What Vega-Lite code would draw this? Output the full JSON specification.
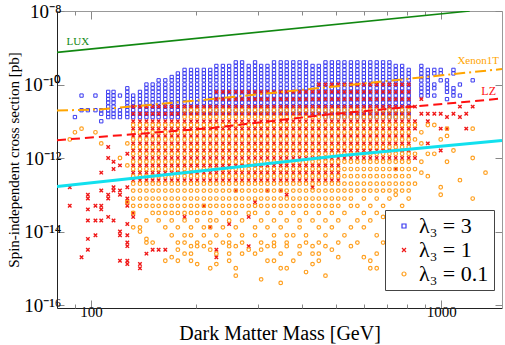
{
"$schema": "https://vega.github.io/schema/vega-lite/v6.json",
"width": 445, "height": 297,
"autosize": {"type": "none"},
"padding": {"left": 57, "top": 11, "right": 3, "bottom": 37},
"config": {"view": {"stroke": null}, "font": "Liberation Serif", "legend": {"labelFont": "Liberation Serif"}, "axis": {"grid": false, "labelFont": "Liberation Serif", "titleFont": "Liberation Serif", "titleFontWeight": "normal", "labelColor": "black", "titleColor": "black", "tickColor": "#888"}},
"datasets": {
"b": [
{"m":90,"s":1.3e-11},
{"m":94,"s":5e-11},{"m":94,"s":2e-11},
{"m":98,"s":2e-11},
{"m":103,"s":5e-11},{"m":103,"s":2e-11},
{"m":107,"s":2e-11},{"m":107,"s":1.6e-11},{"m":107,"s":1e-11},
{"m":112,"s":6.3e-11},{"m":112,"s":5e-11},{"m":112,"s":4e-11},{"m":112,"s":3.2e-11},{"m":112,"s":2.5e-11},{"m":112,"s":2e-11},{"m":112,"s":1.6e-11},{"m":112,"s":1.3e-11},
{"m":116,"s":6.3e-11},{"m":116,"s":5e-11},{"m":116,"s":4e-11},{"m":116,"s":3.2e-11},{"m":116,"s":2.5e-11},{"m":116,"s":2e-11},{"m":116,"s":1.6e-11},{"m":116,"s":1.3e-11},
{"m":121,"s":5e-11},{"m":121,"s":2e-11},{"m":121,"s":1.6e-11},{"m":121,"s":1.3e-11},
{"m":127,"s":7.9e-11},{"m":127,"s":6.3e-11},{"m":127,"s":5e-11},{"m":127,"s":4e-11},{"m":127,"s":3.2e-11},{"m":127,"s":2.5e-11},{"m":127,"s":2e-11},{"m":127,"s":1.6e-11},{"m":127,"s":1.3e-11},
{"m":132,"s":5e-11},{"m":132,"s":4e-11},{"m":132,"s":3.2e-11},{"m":132,"s":2.5e-11},{"m":132,"s":2e-11},{"m":132,"s":1.6e-11},{"m":132,"s":1.3e-11},
{"m":138,"s":6.3e-11},{"m":138,"s":5e-11},{"m":138,"s":4e-11},{"m":138,"s":3.2e-11},{"m":138,"s":2.5e-11},{"m":138,"s":2e-11},{"m":138,"s":1.6e-11},{"m":138,"s":1.3e-11},
{"m":144,"s":1e-10},{"m":144,"s":7.9e-11},{"m":144,"s":6.3e-11},{"m":144,"s":5e-11},{"m":144,"s":4e-11},{"m":144,"s":3.2e-11},{"m":144,"s":2.5e-11},{"m":144,"s":2e-11},{"m":144,"s":1.6e-11},{"m":144,"s":1.3e-11},
{"m":150,"s":1e-10},{"m":150,"s":7.9e-11},{"m":150,"s":6.3e-11},{"m":150,"s":5e-11},{"m":150,"s":4e-11},{"m":150,"s":3.2e-11},{"m":150,"s":2.5e-11},{"m":150,"s":2e-11},{"m":150,"s":1.6e-11},{"m":150,"s":1.3e-11},
{"m":156,"s":1.3e-10},{"m":156,"s":1e-10},{"m":156,"s":7.9e-11},{"m":156,"s":6.3e-11},{"m":156,"s":5e-11},{"m":156,"s":4e-11},{"m":156,"s":3.2e-11},{"m":156,"s":2.5e-11},{"m":156,"s":2e-11},{"m":156,"s":1.6e-11},{"m":156,"s":1.3e-11},
{"m":163,"s":1.3e-10},{"m":163,"s":1e-10},{"m":163,"s":7.9e-11},{"m":163,"s":6.3e-11},{"m":163,"s":5e-11},{"m":163,"s":4e-11},{"m":163,"s":3.2e-11},{"m":163,"s":2.5e-11},{"m":163,"s":2e-11},{"m":163,"s":1.6e-11},{"m":163,"s":1.3e-11},
{"m":170,"s":1.6e-10},{"m":170,"s":1.3e-10},{"m":170,"s":1e-10},{"m":170,"s":7.9e-11},{"m":170,"s":6.3e-11},{"m":170,"s":5e-11},{"m":170,"s":4e-11},{"m":170,"s":3.2e-11},{"m":170,"s":2.5e-11},{"m":170,"s":2e-11},{"m":170,"s":1.6e-11},{"m":170,"s":1.3e-11},
{"m":177,"s":2e-10},{"m":177,"s":1.6e-10},{"m":177,"s":1.3e-10},{"m":177,"s":1e-10},{"m":177,"s":7.9e-11},{"m":177,"s":6.3e-11},{"m":177,"s":5e-11},{"m":177,"s":4e-11},{"m":177,"s":3.2e-11},{"m":177,"s":2.5e-11},{"m":177,"s":2e-11},{"m":177,"s":1.6e-11},{"m":177,"s":1.3e-11},
{"m":185,"s":2.5e-10},{"m":185,"s":2e-10},{"m":185,"s":1.6e-10},{"m":185,"s":1.3e-10},{"m":185,"s":1e-10},{"m":185,"s":7.9e-11},{"m":185,"s":6.3e-11},{"m":185,"s":5e-11},{"m":185,"s":4e-11},{"m":185,"s":3.2e-11},{"m":185,"s":2.5e-11},{"m":185,"s":2e-11},{"m":185,"s":1.6e-11},
{"m":193,"s":2.5e-10},{"m":193,"s":2e-10},{"m":193,"s":1.6e-10},{"m":193,"s":1.3e-10},{"m":193,"s":1e-10},{"m":193,"s":7.9e-11},{"m":193,"s":6.3e-11},{"m":193,"s":5e-11},{"m":193,"s":4e-11},{"m":193,"s":3.2e-11},{"m":193,"s":2.5e-11},{"m":193,"s":2e-11},{"m":193,"s":1.6e-11},
{"m":201,"s":2.5e-10},{"m":201,"s":2e-10},{"m":201,"s":1.6e-10},{"m":201,"s":1.3e-10},{"m":201,"s":1e-10},{"m":201,"s":7.9e-11},{"m":201,"s":6.3e-11},{"m":201,"s":5e-11},{"m":201,"s":4e-11},{"m":201,"s":3.2e-11},{"m":201,"s":2.5e-11},{"m":201,"s":2e-11},{"m":201,"s":1.6e-11},
{"m":210,"s":2.5e-10},{"m":210,"s":2e-10},{"m":210,"s":1.6e-10},{"m":210,"s":1.3e-10},{"m":210,"s":1e-10},{"m":210,"s":7.9e-11},{"m":210,"s":6.3e-11},{"m":210,"s":5e-11},{"m":210,"s":4e-11},{"m":210,"s":3.2e-11},{"m":210,"s":2.5e-11},{"m":210,"s":2e-11},{"m":210,"s":1.6e-11},
{"m":219,"s":2.5e-10},{"m":219,"s":2e-10},{"m":219,"s":1.6e-10},{"m":219,"s":1.3e-10},{"m":219,"s":1e-10},{"m":219,"s":7.9e-11},{"m":219,"s":6.3e-11},{"m":219,"s":5e-11},{"m":219,"s":4e-11},{"m":219,"s":3.2e-11},{"m":219,"s":2.5e-11},{"m":219,"s":2e-11},{"m":219,"s":1.6e-11},
{"m":228,"s":3.2e-10},{"m":228,"s":2.5e-10},{"m":228,"s":2e-10},{"m":228,"s":1.6e-10},{"m":228,"s":1.3e-10},{"m":228,"s":1e-10},{"m":228,"s":7.9e-11},{"m":228,"s":6.3e-11},{"m":228,"s":5e-11},{"m":228,"s":4e-11},{"m":228,"s":3.2e-11},{"m":228,"s":2.5e-11},{"m":228,"s":2e-11},{"m":228,"s":1.6e-11},
{"m":238,"s":3.2e-10},{"m":238,"s":2.5e-10},{"m":238,"s":2e-10},{"m":238,"s":1.6e-10},{"m":238,"s":1.3e-10},{"m":238,"s":1e-10},{"m":238,"s":7.9e-11},{"m":238,"s":6.3e-11},{"m":238,"s":5e-11},{"m":238,"s":4e-11},{"m":238,"s":3.2e-11},{"m":238,"s":2.5e-11},{"m":238,"s":2e-11},{"m":238,"s":1.6e-11},
{"m":248,"s":3.2e-10},{"m":248,"s":2.5e-10},{"m":248,"s":2e-10},{"m":248,"s":1.6e-10},{"m":248,"s":1.3e-10},{"m":248,"s":1e-10},{"m":248,"s":7.9e-11},{"m":248,"s":6.3e-11},{"m":248,"s":5e-11},{"m":248,"s":4e-11},{"m":248,"s":3.2e-11},{"m":248,"s":2.5e-11},{"m":248,"s":2e-11},{"m":248,"s":1.6e-11},
{"m":259,"s":4e-10},{"m":259,"s":3.2e-10},{"m":259,"s":2.5e-10},{"m":259,"s":2e-10},{"m":259,"s":1.6e-10},{"m":259,"s":1.3e-10},{"m":259,"s":1e-10},{"m":259,"s":7.9e-11},{"m":259,"s":6.3e-11},{"m":259,"s":5e-11},{"m":259,"s":4e-11},{"m":259,"s":3.2e-11},{"m":259,"s":2.5e-11},{"m":259,"s":2e-11},{"m":259,"s":1.6e-11},
{"m":270,"s":4e-10},{"m":270,"s":3.2e-10},{"m":270,"s":2.5e-10},{"m":270,"s":2e-10},{"m":270,"s":1.6e-10},{"m":270,"s":1.3e-10},{"m":270,"s":1e-10},{"m":270,"s":7.9e-11},{"m":270,"s":6.3e-11},{"m":270,"s":5e-11},{"m":270,"s":4e-11},{"m":270,"s":3.2e-11},{"m":270,"s":2.5e-11},{"m":270,"s":2e-11},{"m":270,"s":1.6e-11},
{"m":282,"s":3.2e-10},{"m":282,"s":2.5e-10},{"m":282,"s":2e-10},{"m":282,"s":1.6e-10},{"m":282,"s":1.3e-10},{"m":282,"s":1e-10},{"m":282,"s":7.9e-11},{"m":282,"s":6.3e-11},{"m":282,"s":5e-11},{"m":282,"s":4e-11},{"m":282,"s":3.2e-11},{"m":282,"s":2.5e-11},{"m":282,"s":2e-11},{"m":282,"s":1.6e-11},
{"m":294,"s":4e-10},{"m":294,"s":3.2e-10},{"m":294,"s":2.5e-10},{"m":294,"s":2e-10},{"m":294,"s":1.6e-10},{"m":294,"s":1.3e-10},{"m":294,"s":1e-10},{"m":294,"s":7.9e-11},{"m":294,"s":6.3e-11},{"m":294,"s":5e-11},{"m":294,"s":4e-11},{"m":294,"s":3.2e-11},{"m":294,"s":2.5e-11},{"m":294,"s":2e-11},{"m":294,"s":1.6e-11},
{"m":306,"s":3.2e-10},{"m":306,"s":2.5e-10},{"m":306,"s":2e-10},{"m":306,"s":1.6e-10},{"m":306,"s":1.3e-10},{"m":306,"s":1e-10},{"m":306,"s":7.9e-11},{"m":306,"s":6.3e-11},{"m":306,"s":5e-11},{"m":306,"s":4e-11},{"m":306,"s":3.2e-11},{"m":306,"s":2.5e-11},{"m":306,"s":2e-11},{"m":306,"s":1.6e-11},
{"m":319,"s":3.2e-10},{"m":319,"s":2.5e-10},{"m":319,"s":2e-10},{"m":319,"s":1.6e-10},{"m":319,"s":1.3e-10},{"m":319,"s":1e-10},{"m":319,"s":7.9e-11},{"m":319,"s":6.3e-11},{"m":319,"s":5e-11},{"m":319,"s":4e-11},{"m":319,"s":3.2e-11},{"m":319,"s":2.5e-11},{"m":319,"s":2e-11},{"m":319,"s":1.6e-11},
{"m":333,"s":4e-10},{"m":333,"s":3.2e-10},{"m":333,"s":2.5e-10},{"m":333,"s":2e-10},{"m":333,"s":1.6e-10},{"m":333,"s":1.3e-10},{"m":333,"s":1e-10},{"m":333,"s":7.9e-11},{"m":333,"s":6.3e-11},{"m":333,"s":5e-11},{"m":333,"s":4e-11},{"m":333,"s":3.2e-11},{"m":333,"s":2.5e-11},{"m":333,"s":2e-11},{"m":333,"s":1.6e-11},
{"m":348,"s":4e-10},{"m":348,"s":3.2e-10},{"m":348,"s":2.5e-10},{"m":348,"s":2e-10},{"m":348,"s":1.6e-10},{"m":348,"s":1.3e-10},{"m":348,"s":1e-10},{"m":348,"s":7.9e-11},{"m":348,"s":6.3e-11},{"m":348,"s":5e-11},{"m":348,"s":4e-11},{"m":348,"s":3.2e-11},{"m":348,"s":2.5e-11},{"m":348,"s":2e-11},{"m":348,"s":1.6e-11},
{"m":362,"s":4e-10},{"m":362,"s":3.2e-10},{"m":362,"s":2.5e-10},{"m":362,"s":2e-10},{"m":362,"s":1.6e-10},{"m":362,"s":1.3e-10},{"m":362,"s":1e-10},{"m":362,"s":7.9e-11},{"m":362,"s":6.3e-11},{"m":362,"s":5e-11},{"m":362,"s":4e-11},{"m":362,"s":3.2e-11},{"m":362,"s":2.5e-11},{"m":362,"s":2e-11},{"m":362,"s":1.6e-11},
{"m":378,"s":4e-10},{"m":378,"s":3.2e-10},{"m":378,"s":2.5e-10},{"m":378,"s":2e-10},{"m":378,"s":1.6e-10},{"m":378,"s":1.3e-10},{"m":378,"s":1e-10},{"m":378,"s":7.9e-11},{"m":378,"s":6.3e-11},{"m":378,"s":5e-11},{"m":378,"s":4e-11},{"m":378,"s":3.2e-11},{"m":378,"s":2.5e-11},{"m":378,"s":2e-11},{"m":378,"s":1.6e-11},
{"m":394,"s":4e-10},{"m":394,"s":3.2e-10},{"m":394,"s":2.5e-10},{"m":394,"s":2e-10},{"m":394,"s":1.6e-10},{"m":394,"s":1.3e-10},{"m":394,"s":1e-10},{"m":394,"s":7.9e-11},{"m":394,"s":6.3e-11},{"m":394,"s":5e-11},{"m":394,"s":4e-11},{"m":394,"s":3.2e-11},{"m":394,"s":2.5e-11},{"m":394,"s":2e-11},{"m":394,"s":1.6e-11},
{"m":411,"s":4e-10},{"m":411,"s":3.2e-10},{"m":411,"s":2.5e-10},{"m":411,"s":2e-10},{"m":411,"s":1.6e-10},{"m":411,"s":1.3e-10},{"m":411,"s":1e-10},{"m":411,"s":7.9e-11},{"m":411,"s":6.3e-11},{"m":411,"s":5e-11},{"m":411,"s":4e-11},{"m":411,"s":3.2e-11},{"m":411,"s":2.5e-11},{"m":411,"s":2e-11},{"m":411,"s":1.6e-11},
{"m":429,"s":3.2e-10},{"m":429,"s":2.5e-10},{"m":429,"s":2e-10},{"m":429,"s":1.6e-10},{"m":429,"s":1.3e-10},{"m":429,"s":1e-10},{"m":429,"s":7.9e-11},{"m":429,"s":6.3e-11},{"m":429,"s":5e-11},{"m":429,"s":4e-11},{"m":429,"s":3.2e-11},{"m":429,"s":2.5e-11},{"m":429,"s":2e-11},{"m":429,"s":1.6e-11},
{"m":447,"s":3.2e-10},{"m":447,"s":2.5e-10},{"m":447,"s":2e-10},{"m":447,"s":1.6e-10},{"m":447,"s":1.3e-10},{"m":447,"s":1e-10},{"m":447,"s":7.9e-11},{"m":447,"s":6.3e-11},{"m":447,"s":5e-11},{"m":447,"s":4e-11},{"m":447,"s":3.2e-11},{"m":447,"s":2.5e-11},{"m":447,"s":2e-11},{"m":447,"s":1.6e-11},
{"m":467,"s":4e-10},{"m":467,"s":3.2e-10},{"m":467,"s":2.5e-10},{"m":467,"s":2e-10},{"m":467,"s":1.6e-10},{"m":467,"s":1.3e-10},{"m":467,"s":1e-10},{"m":467,"s":7.9e-11},{"m":467,"s":6.3e-11},{"m":467,"s":5e-11},{"m":467,"s":4e-11},{"m":467,"s":3.2e-11},{"m":467,"s":2.5e-11},{"m":467,"s":2e-11},{"m":467,"s":1.6e-11},{"m":467,"s":1.3e-11},
{"m":487,"s":4e-10},{"m":487,"s":3.2e-10},{"m":487,"s":2.5e-10},{"m":487,"s":2e-10},{"m":487,"s":1.6e-10},{"m":487,"s":1.3e-10},{"m":487,"s":1e-10},{"m":487,"s":7.9e-11},{"m":487,"s":6.3e-11},{"m":487,"s":5e-11},{"m":487,"s":4e-11},{"m":487,"s":3.2e-11},{"m":487,"s":2.5e-11},{"m":487,"s":2e-11},{"m":487,"s":1.6e-11},{"m":487,"s":1.3e-11},
{"m":508,"s":4e-10},{"m":508,"s":3.2e-10},{"m":508,"s":2.5e-10},{"m":508,"s":2e-10},{"m":508,"s":1.6e-10},{"m":508,"s":1.3e-10},{"m":508,"s":1e-10},{"m":508,"s":7.9e-11},{"m":508,"s":6.3e-11},{"m":508,"s":5e-11},{"m":508,"s":4e-11},{"m":508,"s":3.2e-11},{"m":508,"s":2.5e-11},{"m":508,"s":2e-11},{"m":508,"s":1.6e-11},{"m":508,"s":1.3e-11},
{"m":529,"s":4e-10},{"m":529,"s":3.2e-10},{"m":529,"s":2.5e-10},{"m":529,"s":2e-10},{"m":529,"s":1.6e-10},{"m":529,"s":1.3e-10},{"m":529,"s":1e-10},{"m":529,"s":7.9e-11},{"m":529,"s":6.3e-11},{"m":529,"s":5e-11},{"m":529,"s":4e-11},{"m":529,"s":3.2e-11},{"m":529,"s":2.5e-11},{"m":529,"s":2e-11},{"m":529,"s":1.6e-11},{"m":529,"s":1.3e-11},
{"m":552,"s":4e-10},{"m":552,"s":3.2e-10},{"m":552,"s":2.5e-10},{"m":552,"s":2e-10},{"m":552,"s":1.6e-10},{"m":552,"s":1.3e-10},{"m":552,"s":1e-10},{"m":552,"s":7.9e-11},{"m":552,"s":6.3e-11},{"m":552,"s":5e-11},{"m":552,"s":4e-11},{"m":552,"s":3.2e-11},{"m":552,"s":2.5e-11},{"m":552,"s":2e-11},{"m":552,"s":1.6e-11},{"m":552,"s":1.3e-11},
{"m":576,"s":4e-10},{"m":576,"s":3.2e-10},{"m":576,"s":2.5e-10},{"m":576,"s":2e-10},{"m":576,"s":1.6e-10},{"m":576,"s":1.3e-10},{"m":576,"s":1e-10},{"m":576,"s":7.9e-11},{"m":576,"s":6.3e-11},{"m":576,"s":5e-11},{"m":576,"s":4e-11},{"m":576,"s":3.2e-11},{"m":576,"s":2.5e-11},{"m":576,"s":2e-11},{"m":576,"s":1.6e-11},{"m":576,"s":1.3e-11},
{"m":601,"s":4e-10},{"m":601,"s":3.2e-10},{"m":601,"s":2.5e-10},{"m":601,"s":2e-10},{"m":601,"s":1.6e-10},{"m":601,"s":1.3e-10},{"m":601,"s":1e-10},{"m":601,"s":7.9e-11},{"m":601,"s":6.3e-11},{"m":601,"s":5e-11},{"m":601,"s":4e-11},{"m":601,"s":3.2e-11},{"m":601,"s":2.5e-11},{"m":601,"s":2e-11},{"m":601,"s":1.6e-11},{"m":601,"s":1.3e-11},
{"m":627,"s":4e-10},{"m":627,"s":3.2e-10},{"m":627,"s":2.5e-10},{"m":627,"s":2e-10},{"m":627,"s":1.6e-10},{"m":627,"s":1.3e-10},{"m":627,"s":1e-10},{"m":627,"s":7.9e-11},{"m":627,"s":6.3e-11},{"m":627,"s":5e-11},{"m":627,"s":4e-11},{"m":627,"s":3.2e-11},{"m":627,"s":2.5e-11},{"m":627,"s":2e-11},{"m":627,"s":1.6e-11},{"m":627,"s":1.3e-11},
{"m":654,"s":4e-10},{"m":654,"s":3.2e-10},{"m":654,"s":2.5e-10},{"m":654,"s":2e-10},{"m":654,"s":1.6e-10},{"m":654,"s":1.3e-10},{"m":654,"s":1e-10},{"m":654,"s":7.9e-11},{"m":654,"s":6.3e-11},{"m":654,"s":5e-11},{"m":654,"s":4e-11},{"m":654,"s":3.2e-11},{"m":654,"s":2.5e-11},{"m":654,"s":2e-11},{"m":654,"s":1.6e-11},{"m":654,"s":1.3e-11},
{"m":682,"s":4e-10},{"m":682,"s":3.2e-10},{"m":682,"s":2.5e-10},{"m":682,"s":2e-10},{"m":682,"s":1.6e-10},{"m":682,"s":1.3e-10},{"m":682,"s":1e-10},{"m":682,"s":7.9e-11},{"m":682,"s":6.3e-11},{"m":682,"s":5e-11},{"m":682,"s":4e-11},{"m":682,"s":3.2e-11},{"m":682,"s":2.5e-11},{"m":682,"s":2e-11},{"m":682,"s":1.6e-11},{"m":682,"s":1.3e-11},
{"m":711,"s":4e-10},{"m":711,"s":3.2e-10},{"m":711,"s":2.5e-10},{"m":711,"s":2e-10},{"m":711,"s":1.6e-10},{"m":711,"s":1.3e-10},{"m":711,"s":1e-10},{"m":711,"s":7.9e-11},{"m":711,"s":6.3e-11},{"m":711,"s":5e-11},{"m":711,"s":4e-11},{"m":711,"s":3.2e-11},{"m":711,"s":2.5e-11},{"m":711,"s":2e-11},{"m":711,"s":1.6e-11},{"m":711,"s":1.3e-11},
{"m":741,"s":3.2e-10},{"m":741,"s":2.5e-10},{"m":741,"s":2e-10},{"m":741,"s":1.6e-10},{"m":741,"s":1.3e-10},{"m":741,"s":1e-10},{"m":741,"s":7.9e-11},{"m":741,"s":6.3e-11},{"m":741,"s":5e-11},{"m":741,"s":4e-11},{"m":741,"s":3.2e-11},{"m":741,"s":2.5e-11},{"m":741,"s":2e-11},{"m":741,"s":1.6e-11},{"m":741,"s":1.3e-11},
{"m":773,"s":3.2e-10},{"m":773,"s":2.5e-10},{"m":773,"s":2e-10},{"m":773,"s":1.6e-10},{"m":773,"s":1.3e-10},{"m":773,"s":1e-10},{"m":773,"s":7.9e-11},{"m":773,"s":6.3e-11},{"m":773,"s":5e-11},{"m":773,"s":4e-11},{"m":773,"s":3.2e-11},{"m":773,"s":2.5e-11},{"m":773,"s":2e-11},{"m":773,"s":1.6e-11},{"m":773,"s":1.3e-11},
{"m":807,"s":2.5e-10},{"m":807,"s":2e-10},{"m":807,"s":1.6e-10},{"m":807,"s":1.3e-10},{"m":807,"s":1e-10},{"m":807,"s":7.9e-11},{"m":807,"s":6.3e-11},{"m":807,"s":5e-11},{"m":807,"s":4e-11},{"m":807,"s":3.2e-11},{"m":807,"s":2.5e-11},{"m":807,"s":2e-11},{"m":807,"s":1.6e-11},{"m":807,"s":1.3e-11},
{"m":877,"s":3.2e-10},{"m":877,"s":2.5e-10},{"m":877,"s":2e-10},{"m":877,"s":1.6e-10},{"m":877,"s":1.3e-10},{"m":877,"s":1e-10},{"m":877,"s":7.9e-11},{"m":877,"s":6.3e-11},{"m":877,"s":5e-11},
{"m":915,"s":2.5e-10},{"m":915,"s":2e-10},{"m":915,"s":1.6e-10},{"m":915,"s":1.3e-10},{"m":915,"s":1e-10},{"m":915,"s":7.9e-11},{"m":915,"s":6.3e-11},{"m":915,"s":5e-11},
{"m":955,"s":2.5e-10},{"m":955,"s":2e-10},{"m":955,"s":1e-10},{"m":955,"s":7.9e-11},{"m":955,"s":5e-11},
{"m":996,"s":2.5e-10},{"m":996,"s":2e-10},{"m":996,"s":1.3e-10},
{"m":1038,"s":1.3e-10},{"m":1038,"s":1e-10},{"m":1038,"s":7.9e-11},{"m":1038,"s":6.3e-11},{"m":1038,"s":4e-11},
{"m":1083,"s":2.5e-10},{"m":1083,"s":2e-10},{"m":1083,"s":7.9e-11},{"m":1083,"s":6.3e-11},{"m":1083,"s":5e-11},
{"m":1130,"s":1e-10},{"m":1130,"s":5e-11},
{"m":1229,"s":1.3e-10}
],
"r": [
{"m":132,"s":2.5e-11},{"m":132,"s":1.6e-11},{"m":132,"s":1e-11},{"m":132,"s":6.3e-12},{"m":132,"s":4e-12},{"m":132,"s":2.5e-12},{"m":132,"s":1.6e-12},{"m":132,"s":1e-12},{"m":132,"s":6.3e-13},{"m":132,"s":4e-13},{"m":132,"s":2.5e-13},
{"m":138,"s":2.5e-11},{"m":138,"s":1.6e-11},{"m":138,"s":1e-11},{"m":138,"s":6.3e-12},{"m":138,"s":4e-12},{"m":138,"s":2.5e-12},{"m":138,"s":1.6e-12},{"m":138,"s":1e-12},{"m":138,"s":6.3e-13},{"m":138,"s":4e-13},{"m":138,"s":2.5e-13},
{"m":144,"s":2.5e-11},{"m":144,"s":1.6e-11},{"m":144,"s":1e-11},{"m":144,"s":6.3e-12},{"m":144,"s":4e-12},{"m":144,"s":2.5e-12},{"m":144,"s":1.6e-12},{"m":144,"s":1e-12},{"m":144,"s":6.3e-13},{"m":144,"s":4e-13},{"m":144,"s":2.5e-13},
{"m":150,"s":2.5e-11},{"m":150,"s":1.6e-11},{"m":150,"s":1e-11},{"m":150,"s":6.3e-12},{"m":150,"s":4e-12},{"m":150,"s":2.5e-12},{"m":150,"s":1.6e-12},{"m":150,"s":1e-12},{"m":150,"s":6.3e-13},{"m":150,"s":4e-13},{"m":150,"s":2.5e-13},
{"m":156,"s":2.5e-11},{"m":156,"s":1.6e-11},{"m":156,"s":1e-11},{"m":156,"s":6.3e-12},{"m":156,"s":4e-12},{"m":156,"s":2.5e-12},{"m":156,"s":1.6e-12},{"m":156,"s":1e-12},{"m":156,"s":6.3e-13},{"m":156,"s":4e-13},{"m":156,"s":2.5e-13},
{"m":163,"s":2.5e-11},{"m":163,"s":1.6e-11},{"m":163,"s":1e-11},{"m":163,"s":6.3e-12},{"m":163,"s":4e-12},{"m":163,"s":2.5e-12},{"m":163,"s":1.6e-12},{"m":163,"s":1e-12},{"m":163,"s":6.3e-13},{"m":163,"s":4e-13},{"m":163,"s":2.5e-13},
{"m":170,"s":2.5e-11},{"m":170,"s":1.6e-11},{"m":170,"s":1e-11},{"m":170,"s":6.3e-12},{"m":170,"s":4e-12},{"m":170,"s":2.5e-12},{"m":170,"s":1.6e-12},{"m":170,"s":1e-12},{"m":170,"s":6.3e-13},{"m":170,"s":4e-13},{"m":170,"s":2.5e-13},
{"m":177,"s":2.5e-11},{"m":177,"s":1.6e-11},{"m":177,"s":1e-11},{"m":177,"s":6.3e-12},{"m":177,"s":4e-12},{"m":177,"s":2.5e-12},{"m":177,"s":1.6e-12},{"m":177,"s":1e-12},{"m":177,"s":6.3e-13},{"m":177,"s":4e-13},{"m":177,"s":2.5e-13},
{"m":185,"s":2.5e-11},{"m":185,"s":1.6e-11},{"m":185,"s":1e-11},{"m":185,"s":6.3e-12},{"m":185,"s":4e-12},{"m":185,"s":2.5e-12},{"m":185,"s":1.6e-12},{"m":185,"s":1e-12},{"m":185,"s":6.3e-13},{"m":185,"s":4e-13},{"m":185,"s":2.5e-13},
{"m":193,"s":2.5e-11},{"m":193,"s":1.6e-11},{"m":193,"s":1e-11},{"m":193,"s":6.3e-12},{"m":193,"s":4e-12},{"m":193,"s":2.5e-12},{"m":193,"s":1.6e-12},{"m":193,"s":1e-12},{"m":193,"s":6.3e-13},{"m":193,"s":4e-13},{"m":193,"s":2.5e-13},
{"m":201,"s":2.5e-11},{"m":201,"s":1.6e-11},{"m":201,"s":1e-11},{"m":201,"s":6.3e-12},{"m":201,"s":4e-12},{"m":201,"s":2.5e-12},{"m":201,"s":1.6e-12},{"m":201,"s":1e-12},{"m":201,"s":6.3e-13},{"m":201,"s":4e-13},{"m":201,"s":2.5e-13},
{"m":210,"s":2.5e-11},{"m":210,"s":1.6e-11},{"m":210,"s":1e-11},{"m":210,"s":6.3e-12},{"m":210,"s":4e-12},{"m":210,"s":2.5e-12},{"m":210,"s":1.6e-12},{"m":210,"s":1e-12},{"m":210,"s":6.3e-13},{"m":210,"s":4e-13},{"m":210,"s":2.5e-13},
{"m":219,"s":2.5e-11},{"m":219,"s":1.6e-11},{"m":219,"s":1e-11},{"m":219,"s":6.3e-12},{"m":219,"s":4e-12},{"m":219,"s":2.5e-12},{"m":219,"s":1.6e-12},{"m":219,"s":1e-12},{"m":219,"s":6.3e-13},{"m":219,"s":4e-13},{"m":219,"s":2.5e-13},
{"m":228,"s":6.3e-11},{"m":228,"s":4e-11},{"m":228,"s":2.5e-11},{"m":228,"s":1.6e-11},{"m":228,"s":1e-11},{"m":228,"s":6.3e-12},{"m":228,"s":4e-12},{"m":228,"s":2.5e-12},{"m":228,"s":1.6e-12},{"m":228,"s":1e-12},{"m":228,"s":6.3e-13},{"m":228,"s":4e-13},{"m":228,"s":2.5e-13},
{"m":238,"s":6.3e-11},{"m":238,"s":4e-11},{"m":238,"s":2.5e-11},{"m":238,"s":1.6e-11},{"m":238,"s":1e-11},{"m":238,"s":6.3e-12},{"m":238,"s":4e-12},{"m":238,"s":2.5e-12},{"m":238,"s":1.6e-12},{"m":238,"s":1e-12},{"m":238,"s":6.3e-13},{"m":238,"s":4e-13},{"m":238,"s":2.5e-13},
{"m":248,"s":6.3e-11},{"m":248,"s":4e-11},{"m":248,"s":2.5e-11},{"m":248,"s":1.6e-11},{"m":248,"s":1e-11},{"m":248,"s":6.3e-12},{"m":248,"s":4e-12},{"m":248,"s":2.5e-12},{"m":248,"s":1.6e-12},{"m":248,"s":1e-12},{"m":248,"s":6.3e-13},{"m":248,"s":4e-13},{"m":248,"s":2.5e-13},
{"m":259,"s":6.3e-11},{"m":259,"s":4e-11},{"m":259,"s":2.5e-11},{"m":259,"s":1.6e-11},{"m":259,"s":1e-11},{"m":259,"s":6.3e-12},{"m":259,"s":4e-12},{"m":259,"s":2.5e-12},{"m":259,"s":1.6e-12},{"m":259,"s":1e-12},{"m":259,"s":6.3e-13},{"m":259,"s":4e-13},{"m":259,"s":2.5e-13},
{"m":270,"s":6.3e-11},{"m":270,"s":4e-11},{"m":270,"s":2.5e-11},{"m":270,"s":1.6e-11},{"m":270,"s":1e-11},{"m":270,"s":6.3e-12},{"m":270,"s":4e-12},{"m":270,"s":2.5e-12},{"m":270,"s":1.6e-12},{"m":270,"s":1e-12},{"m":270,"s":6.3e-13},{"m":270,"s":4e-13},{"m":270,"s":2.5e-13},
{"m":282,"s":6.3e-11},{"m":282,"s":4e-11},{"m":282,"s":2.5e-11},{"m":282,"s":1.6e-11},{"m":282,"s":1e-11},{"m":282,"s":6.3e-12},{"m":282,"s":4e-12},{"m":282,"s":2.5e-12},{"m":282,"s":1.6e-12},{"m":282,"s":1e-12},{"m":282,"s":6.3e-13},{"m":282,"s":4e-13},{"m":282,"s":2.5e-13},
{"m":294,"s":6.3e-11},{"m":294,"s":4e-11},{"m":294,"s":2.5e-11},{"m":294,"s":1.6e-11},{"m":294,"s":1e-11},{"m":294,"s":6.3e-12},{"m":294,"s":4e-12},{"m":294,"s":2.5e-12},{"m":294,"s":1.6e-12},{"m":294,"s":1e-12},{"m":294,"s":6.3e-13},{"m":294,"s":4e-13},{"m":294,"s":2.5e-13},
{"m":306,"s":6.3e-11},{"m":306,"s":4e-11},{"m":306,"s":2.5e-11},{"m":306,"s":1.6e-11},{"m":306,"s":1e-11},{"m":306,"s":6.3e-12},{"m":306,"s":4e-12},{"m":306,"s":2.5e-12},{"m":306,"s":1.6e-12},{"m":306,"s":1e-12},{"m":306,"s":6.3e-13},{"m":306,"s":4e-13},{"m":306,"s":2.5e-13},
{"m":319,"s":6.3e-11},{"m":319,"s":4e-11},{"m":319,"s":2.5e-11},{"m":319,"s":1.6e-11},{"m":319,"s":1e-11},{"m":319,"s":6.3e-12},{"m":319,"s":4e-12},{"m":319,"s":2.5e-12},{"m":319,"s":1.6e-12},{"m":319,"s":1e-12},{"m":319,"s":6.3e-13},{"m":319,"s":4e-13},{"m":319,"s":2.5e-13},
{"m":333,"s":6.3e-11},{"m":333,"s":4e-11},{"m":333,"s":2.5e-11},{"m":333,"s":1.6e-11},{"m":333,"s":1e-11},{"m":333,"s":6.3e-12},{"m":333,"s":4e-12},{"m":333,"s":2.5e-12},{"m":333,"s":1.6e-12},{"m":333,"s":1e-12},{"m":333,"s":6.3e-13},{"m":333,"s":4e-13},{"m":333,"s":2.5e-13},
{"m":348,"s":6.3e-11},{"m":348,"s":4e-11},{"m":348,"s":2.5e-11},{"m":348,"s":1.6e-11},{"m":348,"s":1e-11},{"m":348,"s":6.3e-12},{"m":348,"s":4e-12},{"m":348,"s":2.5e-12},{"m":348,"s":1.6e-12},{"m":348,"s":1e-12},{"m":348,"s":6.3e-13},{"m":348,"s":4e-13},{"m":348,"s":2.5e-13},
{"m":362,"s":6.3e-11},{"m":362,"s":4e-11},{"m":362,"s":2.5e-11},{"m":362,"s":1.6e-11},{"m":362,"s":1e-11},{"m":362,"s":6.3e-12},{"m":362,"s":4e-12},{"m":362,"s":2.5e-12},{"m":362,"s":1.6e-12},{"m":362,"s":1e-12},{"m":362,"s":6.3e-13},{"m":362,"s":4e-13},{"m":362,"s":2.5e-13},
{"m":378,"s":6.3e-11},{"m":378,"s":4e-11},{"m":378,"s":2.5e-11},{"m":378,"s":1.6e-11},{"m":378,"s":1e-11},{"m":378,"s":6.3e-12},{"m":378,"s":4e-12},{"m":378,"s":2.5e-12},{"m":378,"s":1.6e-12},{"m":378,"s":1e-12},{"m":378,"s":6.3e-13},{"m":378,"s":4e-13},{"m":378,"s":2.5e-13},
{"m":394,"s":6.3e-11},{"m":394,"s":4e-11},{"m":394,"s":2.5e-11},{"m":394,"s":1.6e-11},{"m":394,"s":1e-11},{"m":394,"s":6.3e-12},{"m":394,"s":4e-12},{"m":394,"s":2.5e-12},{"m":394,"s":1.6e-12},{"m":394,"s":1e-12},{"m":394,"s":6.3e-13},{"m":394,"s":4e-13},{"m":394,"s":2.5e-13},
{"m":411,"s":6.3e-11},{"m":411,"s":4e-11},{"m":411,"s":2.5e-11},{"m":411,"s":1.6e-11},{"m":411,"s":1e-11},{"m":411,"s":6.3e-12},{"m":411,"s":4e-12},{"m":411,"s":2.5e-12},{"m":411,"s":1.6e-12},{"m":411,"s":1e-12},{"m":411,"s":6.3e-13},{"m":411,"s":4e-13},{"m":411,"s":2.5e-13},
{"m":429,"s":6.3e-11},{"m":429,"s":4e-11},{"m":429,"s":2.5e-11},{"m":429,"s":1.6e-11},{"m":429,"s":1e-11},{"m":429,"s":6.3e-12},{"m":429,"s":4e-12},{"m":429,"s":2.5e-12},{"m":429,"s":1.6e-12},{"m":429,"s":1e-12},{"m":429,"s":6.3e-13},{"m":429,"s":4e-13},{"m":429,"s":2.5e-13},
{"m":447,"s":1e-10},{"m":447,"s":6.3e-11},{"m":447,"s":4e-11},{"m":447,"s":2.5e-11},{"m":447,"s":1.6e-11},{"m":447,"s":1e-11},{"m":447,"s":6.3e-12},{"m":447,"s":4e-12},{"m":447,"s":2.5e-12},{"m":447,"s":1.6e-12},{"m":447,"s":1e-12},{"m":447,"s":6.3e-13},{"m":447,"s":4e-13},{"m":447,"s":2.5e-13},
{"m":467,"s":1e-10},{"m":467,"s":6.3e-11},{"m":467,"s":4e-11},{"m":467,"s":2.5e-11},{"m":467,"s":1.6e-11},{"m":467,"s":1e-11},{"m":467,"s":6.3e-12},{"m":467,"s":4e-12},{"m":467,"s":2.5e-12},{"m":467,"s":1.6e-12},{"m":467,"s":1e-12},{"m":467,"s":6.3e-13},{"m":467,"s":4e-13},{"m":467,"s":2.5e-13},
{"m":487,"s":1e-10},{"m":487,"s":6.3e-11},{"m":487,"s":4e-11},{"m":487,"s":2.5e-11},{"m":487,"s":1.6e-11},{"m":487,"s":1e-11},{"m":487,"s":6.3e-12},{"m":487,"s":4e-12},{"m":487,"s":2.5e-12},{"m":487,"s":1.6e-12},{"m":487,"s":1e-12},{"m":487,"s":6.3e-13},{"m":487,"s":4e-13},{"m":487,"s":2.5e-13},
{"m":508,"s":1e-10},{"m":508,"s":6.3e-11},{"m":508,"s":4e-11},{"m":508,"s":2.5e-11},{"m":508,"s":1.6e-11},{"m":508,"s":1e-11},{"m":508,"s":6.3e-12},{"m":508,"s":4e-12},{"m":508,"s":2.5e-12},{"m":508,"s":1.6e-12},{"m":508,"s":1e-12},{"m":508,"s":6.3e-13},{"m":508,"s":4e-13},{"m":508,"s":2.5e-13},
{"m":529,"s":1e-10},{"m":529,"s":6.3e-11},{"m":529,"s":4e-11},{"m":529,"s":2.5e-11},{"m":529,"s":1.6e-11},{"m":529,"s":1e-11},{"m":529,"s":6.3e-12},{"m":529,"s":4e-12},{"m":529,"s":2.5e-12},{"m":529,"s":1.6e-12},{"m":529,"s":1e-12},
{"m":552,"s":1e-10},{"m":552,"s":6.3e-11},{"m":552,"s":4e-11},{"m":552,"s":2.5e-11},{"m":552,"s":1.6e-11},{"m":552,"s":1e-11},{"m":552,"s":6.3e-12},{"m":552,"s":4e-12},{"m":552,"s":2.5e-12},{"m":552,"s":1.6e-12},{"m":552,"s":1e-12},
{"m":576,"s":1e-10},{"m":576,"s":6.3e-11},{"m":576,"s":4e-11},{"m":576,"s":2.5e-11},{"m":576,"s":1.6e-11},{"m":576,"s":1e-11},{"m":576,"s":6.3e-12},{"m":576,"s":4e-12},{"m":576,"s":2.5e-12},{"m":576,"s":1.6e-12},{"m":576,"s":1e-12},
{"m":601,"s":1e-10},{"m":601,"s":6.3e-11},{"m":601,"s":4e-11},{"m":601,"s":2.5e-11},{"m":601,"s":1.6e-11},{"m":601,"s":1e-11},{"m":601,"s":6.3e-12},{"m":601,"s":4e-12},{"m":601,"s":2.5e-12},{"m":601,"s":1.6e-12},{"m":601,"s":1e-12},
{"m":627,"s":1e-10},{"m":627,"s":6.3e-11},{"m":627,"s":4e-11},{"m":627,"s":2.5e-11},{"m":627,"s":1.6e-11},{"m":627,"s":1e-11},{"m":627,"s":6.3e-12},{"m":627,"s":4e-12},{"m":627,"s":2.5e-12},{"m":627,"s":1.6e-12},{"m":627,"s":1e-12},
{"m":654,"s":1e-10},{"m":654,"s":6.3e-11},{"m":654,"s":4e-11},{"m":654,"s":2.5e-11},{"m":654,"s":1.6e-11},{"m":654,"s":1e-11},{"m":654,"s":6.3e-12},{"m":654,"s":4e-12},{"m":654,"s":2.5e-12},{"m":654,"s":1.6e-12},{"m":654,"s":1e-12},
{"m":682,"s":1e-10},{"m":682,"s":6.3e-11},{"m":682,"s":4e-11},{"m":682,"s":2.5e-11},{"m":682,"s":1.6e-11},{"m":682,"s":1e-11},{"m":682,"s":6.3e-12},{"m":682,"s":4e-12},{"m":682,"s":2.5e-12},{"m":682,"s":1.6e-12},{"m":682,"s":1e-12},
{"m":711,"s":1e-10},{"m":711,"s":6.3e-11},{"m":711,"s":4e-11},{"m":711,"s":2.5e-11},{"m":711,"s":1.6e-11},{"m":711,"s":1e-11},{"m":711,"s":6.3e-12},{"m":711,"s":4e-12},{"m":711,"s":2.5e-12},{"m":711,"s":1.6e-12},{"m":711,"s":1e-12},
{"m":741,"s":1e-10},{"m":741,"s":6.3e-11},{"m":741,"s":4e-11},{"m":741,"s":2.5e-11},{"m":741,"s":1.6e-11},{"m":741,"s":1e-11},{"m":741,"s":6.3e-12},{"m":741,"s":4e-12},{"m":741,"s":2.5e-12},{"m":741,"s":1.6e-12},{"m":741,"s":1e-12},
{"m":773,"s":1e-10},{"m":773,"s":6.3e-11},{"m":773,"s":4e-11},{"m":773,"s":2.5e-11},{"m":773,"s":1.6e-11},{"m":773,"s":1e-11},{"m":773,"s":6.3e-12},{"m":773,"s":4e-12},{"m":773,"s":2.5e-12},{"m":773,"s":1.6e-12},{"m":773,"s":1e-12},
{"m":807,"s":1e-10},{"m":807,"s":6.3e-11},{"m":807,"s":4e-11},{"m":807,"s":2.5e-11},{"m":807,"s":1.6e-11},{"m":807,"s":1e-11},{"m":807,"s":6.3e-12},{"m":807,"s":4e-12},{"m":807,"s":2.5e-12},{"m":807,"s":1.6e-12},{"m":807,"s":1e-12},
{"m":87,"s":1.6e-13},{"m":87,"s":5e-14},
{"m":94,"s":2e-15},
{"m":98,"s":1e-13},{"m":98,"s":7.9e-14},{"m":98,"s":4e-14},{"m":98,"s":2e-14},{"m":98,"s":6.3e-15},{"m":98,"s":3.2e-15},
{"m":103,"s":5e-14},{"m":103,"s":2e-14},{"m":103,"s":7.9e-15},
{"m":107,"s":1.3e-13},{"m":107,"s":5e-14},{"m":107,"s":4e-14},{"m":107,"s":2e-14},{"m":107,"s":4e-13},
{"m":112,"s":1e-13},{"m":112,"s":7.9e-14},{"m":112,"s":2.5e-14},{"m":112,"s":2e-12},{"m":112,"s":1e-12},
{"m":116,"s":1.6e-13},{"m":116,"s":1.3e-13},{"m":116,"s":2e-14},{"m":116,"s":7.9e-13},{"m":116,"s":5e-13},
{"m":121,"s":1.3e-13},{"m":121,"s":1e-13},{"m":121,"s":1e-14},{"m":121,"s":7.9e-15},{"m":121,"s":1.6e-15},{"m":121,"s":6.3e-13},
{"m":127,"s":1.6e-13},{"m":127,"s":7.9e-14},{"m":127,"s":6.3e-14},{"m":127,"s":5e-14},{"m":127,"s":1.6e-14},{"m":127,"s":7.9e-15},{"m":127,"s":5e-15},{"m":127,"s":4e-15},{"m":127,"s":1.6e-15},{"m":127,"s":1.3e-15},{"m":127,"s":1.3e-12},
{"m":132,"s":3.2e-14},{"m":132,"s":2.5e-14},
{"m":138,"s":1.3e-15},{"m":138,"s":1e-15},
{"m":144,"s":2.5e-15},
{"m":150,"s":3.2e-15},{"m":156,"s":3.2e-15},{"m":163,"s":3.2e-15},
{"m":319,"s":1.3e-13},{"m":228,"s":3.2e-15},{"m":228,"s":2e-15},{"m":282,"s":4e-15},{"m":282,"s":2.5e-14},{"m":210,"s":5e-14},{"m":185,"s":2.5e-14},{"m":219,"s":1.3e-14},{"m":248,"s":1.6e-14},{"m":259,"s":1.3e-13},{"m":362,"s":1e-13},{"m":429,"s":1.6e-13},{"m":294,"s":6.3e-14},{"m":348,"s":1.3e-13},
{"m":841,"s":2.5e-11},{"m":841,"s":1e-11},{"m":841,"s":6.3e-12},{"m":841,"s":1e-12},{"m":877,"s":4e-11},{"m":877,"s":1.6e-11},{"m":915,"s":1.6e-11},{"m":915,"s":1e-11},{"m":915,"s":2.5e-12},{"m":955,"s":1.6e-11},{"m":996,"s":1.6e-11},{"m":996,"s":6.3e-12},{"m":996,"s":1.6e-12},{"m":1038,"s":1.3e-11},{"m":1038,"s":6.3e-12},{"m":1083,"s":1.6e-11},{"m":1130,"s":2.5e-11},{"m":1130,"s":1.3e-11},{"m":1178,"s":1.6e-11},{"m":1178,"s":6.3e-12},{"m":1229,"s":2.5e-11},{"m":741,"s":5e-13}
],
"o": [
{"m":132,"s":7.9e-12},{"m":132,"s":5e-12},{"m":132,"s":3.2e-12},{"m":132,"s":2e-12},{"m":132,"s":1.3e-12},{"m":132,"s":7.9e-13},{"m":132,"s":5e-13},{"m":132,"s":3.2e-13},{"m":132,"s":2e-13},{"m":132,"s":1.3e-13},{"m":132,"s":7.9e-14},{"m":132,"s":5e-14},
{"m":138,"s":7.9e-12},{"m":138,"s":5e-12},{"m":138,"s":3.2e-12},{"m":138,"s":2e-12},{"m":138,"s":1.3e-12},{"m":138,"s":7.9e-13},{"m":138,"s":5e-13},{"m":138,"s":3.2e-13},{"m":138,"s":2e-13},{"m":138,"s":1.3e-13},{"m":138,"s":7.9e-14},{"m":138,"s":5e-14},
{"m":144,"s":7.9e-12},{"m":144,"s":5e-12},{"m":144,"s":3.2e-12},{"m":144,"s":2e-12},{"m":144,"s":1.3e-12},{"m":144,"s":7.9e-13},{"m":144,"s":5e-13},{"m":144,"s":3.2e-13},{"m":144,"s":2e-13},{"m":144,"s":1.3e-13},{"m":144,"s":7.9e-14},{"m":144,"s":5e-14},
{"m":150,"s":7.9e-12},{"m":150,"s":5e-12},{"m":150,"s":3.2e-12},{"m":150,"s":2e-12},{"m":150,"s":1.3e-12},{"m":150,"s":7.9e-13},{"m":150,"s":5e-13},{"m":150,"s":3.2e-13},{"m":150,"s":2e-13},{"m":150,"s":1.3e-13},{"m":150,"s":7.9e-14},{"m":150,"s":5e-14},
{"m":156,"s":7.9e-12},{"m":156,"s":5e-12},{"m":156,"s":3.2e-12},{"m":156,"s":2e-12},{"m":156,"s":1.3e-12},{"m":156,"s":7.9e-13},{"m":156,"s":5e-13},{"m":156,"s":3.2e-13},{"m":156,"s":2e-13},{"m":156,"s":1.3e-13},{"m":156,"s":7.9e-14},{"m":156,"s":5e-14},
{"m":163,"s":7.9e-12},{"m":163,"s":5e-12},{"m":163,"s":3.2e-12},{"m":163,"s":2e-12},{"m":163,"s":1.3e-12},{"m":163,"s":7.9e-13},{"m":163,"s":5e-13},{"m":163,"s":3.2e-13},{"m":163,"s":2e-13},{"m":163,"s":1.3e-13},{"m":163,"s":7.9e-14},{"m":163,"s":5e-14},
{"m":170,"s":7.9e-12},{"m":170,"s":5e-12},{"m":170,"s":3.2e-12},{"m":170,"s":2e-12},{"m":170,"s":1.3e-12},{"m":170,"s":7.9e-13},{"m":170,"s":5e-13},{"m":170,"s":3.2e-13},{"m":170,"s":2e-13},{"m":170,"s":1.3e-13},{"m":170,"s":7.9e-14},{"m":170,"s":5e-14},
{"m":177,"s":7.9e-12},{"m":177,"s":5e-12},{"m":177,"s":3.2e-12},{"m":177,"s":2e-12},{"m":177,"s":1.3e-12},{"m":177,"s":7.9e-13},{"m":177,"s":5e-13},{"m":177,"s":3.2e-13},{"m":177,"s":2e-13},{"m":177,"s":1.3e-13},{"m":177,"s":7.9e-14},{"m":177,"s":5e-14},
{"m":185,"s":2e-11},{"m":185,"s":1.3e-11},{"m":185,"s":7.9e-12},{"m":185,"s":5e-12},{"m":185,"s":3.2e-12},{"m":185,"s":2e-12},{"m":185,"s":1.3e-12},{"m":185,"s":7.9e-13},{"m":185,"s":5e-13},{"m":185,"s":3.2e-13},{"m":185,"s":2e-13},{"m":185,"s":1.3e-13},{"m":185,"s":7.9e-14},{"m":185,"s":5e-14},
{"m":193,"s":2e-11},{"m":193,"s":1.3e-11},{"m":193,"s":7.9e-12},{"m":193,"s":5e-12},{"m":193,"s":3.2e-12},{"m":193,"s":2e-12},{"m":193,"s":1.3e-12},{"m":193,"s":7.9e-13},{"m":193,"s":5e-13},{"m":193,"s":3.2e-13},{"m":193,"s":2e-13},{"m":193,"s":1.3e-13},{"m":193,"s":7.9e-14},{"m":193,"s":5e-14},
{"m":201,"s":2e-11},{"m":201,"s":1.3e-11},{"m":201,"s":7.9e-12},{"m":201,"s":5e-12},{"m":201,"s":3.2e-12},{"m":201,"s":2e-12},{"m":201,"s":1.3e-12},{"m":201,"s":7.9e-13},{"m":201,"s":5e-13},{"m":201,"s":3.2e-13},{"m":201,"s":2e-13},{"m":201,"s":1.3e-13},{"m":201,"s":7.9e-14},{"m":201,"s":5e-14},
{"m":210,"s":2e-11},{"m":210,"s":1.3e-11},{"m":210,"s":7.9e-12},{"m":210,"s":5e-12},{"m":210,"s":3.2e-12},{"m":210,"s":2e-12},{"m":210,"s":1.3e-12},{"m":210,"s":7.9e-13},{"m":210,"s":5e-13},{"m":210,"s":3.2e-13},{"m":210,"s":2e-13},{"m":210,"s":1.3e-13},{"m":210,"s":7.9e-14},{"m":210,"s":5e-14},
{"m":219,"s":2e-11},{"m":219,"s":1.3e-11},{"m":219,"s":7.9e-12},{"m":219,"s":5e-12},{"m":219,"s":3.2e-12},{"m":219,"s":2e-12},{"m":219,"s":1.3e-12},{"m":219,"s":7.9e-13},{"m":219,"s":5e-13},{"m":219,"s":3.2e-13},{"m":219,"s":2e-13},{"m":219,"s":1.3e-13},{"m":219,"s":7.9e-14},{"m":219,"s":5e-14},
{"m":228,"s":2e-11},{"m":228,"s":1.3e-11},{"m":228,"s":7.9e-12},{"m":228,"s":5e-12},{"m":228,"s":3.2e-12},{"m":228,"s":2e-12},{"m":228,"s":1.3e-12},{"m":228,"s":7.9e-13},{"m":228,"s":5e-13},{"m":228,"s":3.2e-13},{"m":228,"s":2e-13},{"m":228,"s":1.3e-13},{"m":228,"s":7.9e-14},{"m":228,"s":5e-14},
{"m":238,"s":2e-11},{"m":238,"s":1.3e-11},{"m":238,"s":7.9e-12},{"m":238,"s":5e-12},{"m":238,"s":3.2e-12},{"m":238,"s":2e-12},{"m":238,"s":1.3e-12},{"m":238,"s":7.9e-13},{"m":238,"s":5e-13},{"m":238,"s":3.2e-13},{"m":238,"s":2e-13},{"m":238,"s":1.3e-13},{"m":238,"s":7.9e-14},{"m":238,"s":5e-14},
{"m":248,"s":2e-11},{"m":248,"s":1.3e-11},{"m":248,"s":7.9e-12},{"m":248,"s":5e-12},{"m":248,"s":3.2e-12},{"m":248,"s":2e-12},{"m":248,"s":1.3e-12},{"m":248,"s":7.9e-13},{"m":248,"s":5e-13},{"m":248,"s":3.2e-13},{"m":248,"s":2e-13},{"m":248,"s":1.3e-13},{"m":248,"s":7.9e-14},{"m":248,"s":5e-14},
{"m":259,"s":2e-11},{"m":259,"s":1.3e-11},{"m":259,"s":7.9e-12},{"m":259,"s":5e-12},{"m":259,"s":3.2e-12},{"m":259,"s":2e-12},{"m":259,"s":1.3e-12},{"m":259,"s":7.9e-13},{"m":259,"s":5e-13},{"m":259,"s":3.2e-13},{"m":259,"s":2e-13},{"m":259,"s":1.3e-13},{"m":259,"s":7.9e-14},{"m":259,"s":5e-14},
{"m":270,"s":2e-11},{"m":270,"s":1.3e-11},{"m":270,"s":7.9e-12},{"m":270,"s":5e-12},{"m":270,"s":3.2e-12},{"m":270,"s":2e-12},{"m":270,"s":1.3e-12},{"m":270,"s":7.9e-13},{"m":270,"s":5e-13},{"m":270,"s":3.2e-13},{"m":270,"s":2e-13},{"m":270,"s":1.3e-13},{"m":270,"s":7.9e-14},{"m":270,"s":5e-14},
{"m":282,"s":2e-11},{"m":282,"s":1.3e-11},{"m":282,"s":7.9e-12},{"m":282,"s":5e-12},{"m":282,"s":3.2e-12},{"m":282,"s":2e-12},{"m":282,"s":1.3e-12},{"m":282,"s":7.9e-13},{"m":282,"s":5e-13},{"m":282,"s":3.2e-13},{"m":282,"s":2e-13},{"m":282,"s":1.3e-13},{"m":282,"s":7.9e-14},{"m":282,"s":5e-14},
{"m":294,"s":2e-11},{"m":294,"s":1.3e-11},{"m":294,"s":7.9e-12},{"m":294,"s":5e-12},{"m":294,"s":3.2e-12},{"m":294,"s":2e-12},{"m":294,"s":1.3e-12},{"m":294,"s":7.9e-13},{"m":294,"s":5e-13},{"m":294,"s":3.2e-13},{"m":294,"s":2e-13},{"m":294,"s":1.3e-13},{"m":294,"s":7.9e-14},{"m":294,"s":5e-14},
{"m":306,"s":2e-11},{"m":306,"s":1.3e-11},{"m":306,"s":7.9e-12},{"m":306,"s":5e-12},{"m":306,"s":3.2e-12},{"m":306,"s":2e-12},{"m":306,"s":1.3e-12},{"m":306,"s":7.9e-13},{"m":306,"s":5e-13},{"m":306,"s":3.2e-13},{"m":306,"s":2e-13},{"m":306,"s":1.3e-13},{"m":306,"s":7.9e-14},{"m":306,"s":5e-14},
{"m":319,"s":2e-11},{"m":319,"s":1.3e-11},{"m":319,"s":7.9e-12},{"m":319,"s":5e-12},{"m":319,"s":3.2e-12},{"m":319,"s":2e-12},{"m":319,"s":1.3e-12},{"m":319,"s":7.9e-13},{"m":319,"s":5e-13},{"m":319,"s":3.2e-13},{"m":319,"s":2e-13},{"m":319,"s":1.3e-13},{"m":319,"s":7.9e-14},{"m":319,"s":5e-14},
{"m":333,"s":2e-11},{"m":333,"s":1.3e-11},{"m":333,"s":7.9e-12},{"m":333,"s":5e-12},{"m":333,"s":3.2e-12},{"m":333,"s":2e-12},{"m":333,"s":1.3e-12},{"m":333,"s":7.9e-13},{"m":333,"s":5e-13},{"m":333,"s":3.2e-13},{"m":333,"s":2e-13},{"m":333,"s":1.3e-13},{"m":333,"s":7.9e-14},{"m":333,"s":5e-14},
{"m":348,"s":2e-11},{"m":348,"s":1.3e-11},{"m":348,"s":7.9e-12},{"m":348,"s":5e-12},{"m":348,"s":3.2e-12},{"m":348,"s":2e-12},{"m":348,"s":1.3e-12},{"m":348,"s":7.9e-13},{"m":348,"s":5e-13},{"m":348,"s":3.2e-13},{"m":348,"s":2e-13},{"m":348,"s":1.3e-13},{"m":348,"s":7.9e-14},{"m":348,"s":5e-14},
{"m":362,"s":2e-11},{"m":362,"s":1.3e-11},{"m":362,"s":7.9e-12},{"m":362,"s":5e-12},{"m":362,"s":3.2e-12},{"m":362,"s":2e-12},{"m":362,"s":1.3e-12},{"m":362,"s":7.9e-13},{"m":362,"s":5e-13},{"m":362,"s":3.2e-13},{"m":362,"s":2e-13},{"m":362,"s":1.3e-13},{"m":362,"s":7.9e-14},{"m":362,"s":5e-14},
{"m":378,"s":2e-11},{"m":378,"s":1.3e-11},{"m":378,"s":7.9e-12},{"m":378,"s":5e-12},{"m":378,"s":3.2e-12},{"m":378,"s":2e-12},{"m":378,"s":1.3e-12},{"m":378,"s":7.9e-13},{"m":378,"s":5e-13},{"m":378,"s":3.2e-13},{"m":378,"s":2e-13},{"m":378,"s":1.3e-13},{"m":378,"s":7.9e-14},{"m":378,"s":5e-14},
{"m":394,"s":2e-11},{"m":394,"s":1.3e-11},{"m":394,"s":7.9e-12},{"m":394,"s":5e-12},{"m":394,"s":3.2e-12},{"m":394,"s":2e-12},{"m":394,"s":1.3e-12},{"m":394,"s":7.9e-13},{"m":394,"s":5e-13},{"m":394,"s":3.2e-13},{"m":394,"s":2e-13},{"m":394,"s":1.3e-13},{"m":394,"s":7.9e-14},{"m":394,"s":5e-14},
{"m":411,"s":2e-11},{"m":411,"s":1.3e-11},{"m":411,"s":7.9e-12},{"m":411,"s":5e-12},{"m":411,"s":3.2e-12},{"m":411,"s":2e-12},{"m":411,"s":1.3e-12},{"m":411,"s":7.9e-13},{"m":411,"s":5e-13},{"m":411,"s":3.2e-13},{"m":411,"s":2e-13},{"m":411,"s":1.3e-13},{"m":411,"s":7.9e-14},{"m":411,"s":5e-14},
{"m":429,"s":2e-11},{"m":429,"s":1.3e-11},{"m":429,"s":7.9e-12},{"m":429,"s":5e-12},{"m":429,"s":3.2e-12},{"m":429,"s":2e-12},{"m":429,"s":1.3e-12},{"m":429,"s":7.9e-13},{"m":429,"s":5e-13},{"m":429,"s":3.2e-13},{"m":429,"s":2e-13},{"m":429,"s":1.3e-13},{"m":429,"s":7.9e-14},{"m":429,"s":5e-14},
{"m":447,"s":2e-11},{"m":447,"s":1.3e-11},{"m":447,"s":7.9e-12},{"m":447,"s":5e-12},{"m":447,"s":3.2e-12},{"m":447,"s":2e-12},{"m":447,"s":1.3e-12},{"m":447,"s":7.9e-13},{"m":447,"s":5e-13},{"m":447,"s":3.2e-13},{"m":447,"s":2e-13},{"m":447,"s":1.3e-13},{"m":447,"s":7.9e-14},{"m":447,"s":5e-14},
{"m":467,"s":2e-11},{"m":467,"s":1.3e-11},{"m":467,"s":7.9e-12},{"m":467,"s":5e-12},{"m":467,"s":3.2e-12},{"m":467,"s":2e-12},{"m":467,"s":1.3e-12},{"m":467,"s":7.9e-13},{"m":467,"s":5e-13},{"m":467,"s":3.2e-13},{"m":467,"s":2e-13},{"m":467,"s":1.3e-13},{"m":467,"s":7.9e-14},{"m":467,"s":5e-14},
{"m":487,"s":2e-11},{"m":487,"s":1.3e-11},{"m":487,"s":7.9e-12},{"m":487,"s":5e-12},{"m":487,"s":3.2e-12},{"m":487,"s":2e-12},{"m":487,"s":1.3e-12},{"m":487,"s":7.9e-13},{"m":487,"s":5e-13},{"m":487,"s":3.2e-13},{"m":487,"s":2e-13},{"m":487,"s":1.3e-13},{"m":487,"s":7.9e-14},{"m":487,"s":5e-14},
{"m":508,"s":2e-11},{"m":508,"s":1.3e-11},{"m":508,"s":7.9e-12},{"m":508,"s":5e-12},{"m":508,"s":3.2e-12},{"m":508,"s":2e-12},{"m":508,"s":1.3e-12},{"m":508,"s":7.9e-13},{"m":508,"s":5e-13},{"m":508,"s":3.2e-13},{"m":508,"s":2e-13},{"m":508,"s":1.3e-13},{"m":508,"s":7.9e-14},{"m":508,"s":5e-14},
{"m":529,"s":2e-11},{"m":529,"s":1.3e-11},{"m":529,"s":7.9e-12},{"m":529,"s":5e-12},{"m":529,"s":3.2e-12},{"m":529,"s":2e-12},{"m":529,"s":1.3e-12},{"m":529,"s":7.9e-13},{"m":529,"s":5e-13},{"m":529,"s":3.2e-13},{"m":529,"s":2e-13},{"m":529,"s":1.3e-13},
{"m":552,"s":2e-11},{"m":552,"s":1.3e-11},{"m":552,"s":7.9e-12},{"m":552,"s":5e-12},{"m":552,"s":3.2e-12},{"m":552,"s":2e-12},{"m":552,"s":1.3e-12},{"m":552,"s":7.9e-13},{"m":552,"s":5e-13},{"m":552,"s":3.2e-13},{"m":552,"s":2e-13},{"m":552,"s":1.3e-13},
{"m":576,"s":2e-11},{"m":576,"s":1.3e-11},{"m":576,"s":7.9e-12},{"m":576,"s":5e-12},{"m":576,"s":3.2e-12},{"m":576,"s":2e-12},{"m":576,"s":1.3e-12},{"m":576,"s":7.9e-13},{"m":576,"s":5e-13},{"m":576,"s":3.2e-13},{"m":576,"s":2e-13},{"m":576,"s":1.3e-13},
{"m":601,"s":2e-11},{"m":601,"s":1.3e-11},{"m":601,"s":7.9e-12},{"m":601,"s":5e-12},{"m":601,"s":3.2e-12},{"m":601,"s":2e-12},{"m":601,"s":1.3e-12},{"m":601,"s":7.9e-13},{"m":601,"s":5e-13},{"m":601,"s":3.2e-13},{"m":601,"s":2e-13},{"m":601,"s":1.3e-13},
{"m":627,"s":2e-11},{"m":627,"s":1.3e-11},{"m":627,"s":7.9e-12},{"m":627,"s":5e-12},{"m":627,"s":3.2e-12},{"m":627,"s":2e-12},{"m":627,"s":1.3e-12},{"m":627,"s":7.9e-13},{"m":627,"s":5e-13},{"m":627,"s":3.2e-13},{"m":627,"s":2e-13},{"m":627,"s":1.3e-13},
{"m":654,"s":2e-11},{"m":654,"s":1.3e-11},{"m":654,"s":7.9e-12},{"m":654,"s":5e-12},{"m":654,"s":3.2e-12},{"m":654,"s":2e-12},{"m":654,"s":1.3e-12},{"m":654,"s":7.9e-13},{"m":654,"s":5e-13},{"m":654,"s":3.2e-13},{"m":654,"s":2e-13},{"m":654,"s":1.3e-13},
{"m":682,"s":2e-11},{"m":682,"s":1.3e-11},{"m":682,"s":7.9e-12},{"m":682,"s":5e-12},{"m":682,"s":3.2e-12},{"m":682,"s":2e-12},{"m":682,"s":1.3e-12},{"m":682,"s":7.9e-13},{"m":682,"s":5e-13},{"m":682,"s":3.2e-13},{"m":682,"s":2e-13},{"m":682,"s":1.3e-13},
{"m":711,"s":2e-11},{"m":711,"s":1.3e-11},{"m":711,"s":7.9e-12},{"m":711,"s":5e-12},{"m":711,"s":3.2e-12},{"m":711,"s":2e-12},{"m":711,"s":1.3e-12},{"m":711,"s":7.9e-13},{"m":711,"s":5e-13},{"m":711,"s":3.2e-13},{"m":711,"s":2e-13},{"m":711,"s":1.3e-13},
{"m":741,"s":2e-11},{"m":741,"s":1.3e-11},{"m":741,"s":7.9e-12},{"m":741,"s":5e-12},{"m":741,"s":3.2e-12},{"m":741,"s":2e-12},{"m":741,"s":1.3e-12},{"m":741,"s":7.9e-13},{"m":741,"s":5e-13},{"m":741,"s":3.2e-13},{"m":741,"s":2e-13},{"m":741,"s":1.3e-13},
{"m":773,"s":2e-11},{"m":773,"s":1.3e-11},{"m":773,"s":7.9e-12},{"m":773,"s":5e-12},{"m":773,"s":3.2e-12},{"m":773,"s":2e-12},{"m":773,"s":1.3e-12},{"m":773,"s":7.9e-13},{"m":773,"s":5e-13},{"m":773,"s":3.2e-13},{"m":773,"s":2e-13},{"m":773,"s":1.3e-13},
{"m":807,"s":2e-11},{"m":807,"s":1.3e-11},{"m":807,"s":7.9e-12},{"m":807,"s":5e-12},{"m":807,"s":3.2e-12},{"m":807,"s":2e-12},{"m":807,"s":1.3e-12},{"m":807,"s":7.9e-13},{"m":807,"s":5e-13},{"m":807,"s":3.2e-13},{"m":807,"s":2e-13},{"m":807,"s":1.3e-13},
{"m":90,"s":5e-12},{"m":94,"s":6.3e-12},{"m":103,"s":5e-12},{"m":107,"s":2.5e-12},{"m":87,"s":3.2e-12},{"m":121,"s":1e-12},{"m":127,"s":2.5e-12},{"m":127,"s":6.3e-13},{"m":127,"s":6.3e-14},
{"m":132,"s":1.3e-14},{"m":138,"s":1.3e-14},{"m":138,"s":1e-14},{"m":144,"s":6.3e-15},{"m":144,"s":5e-15},{"m":150,"s":5e-15},{"m":163,"s":1.6e-15},{"m":170,"s":2e-15},{"m":177,"s":5e-15},{"m":177,"s":3.2e-15},{"m":177,"s":1.6e-15},
{"m":150,"s":3.2e-14},{"m":156,"s":3.2e-14},{"m":156,"s":2e-14},{"m":163,"s":3.2e-14},{"m":163,"s":1.3e-14},{"m":170,"s":3.2e-14},{"m":170,"s":2e-14},{"m":170,"s":7.9e-15},{"m":177,"s":3.2e-14},{"m":177,"s":1.3e-14},{"m":144,"s":2e-14},{"m":132,"s":3.2e-14},
{"m":185,"s":3.2e-14},{"m":185,"s":2e-14},{"m":185,"s":7.9e-15},{"m":185,"s":5e-15},{"m":185,"s":2.5e-15},
{"m":193,"s":3.2e-14},{"m":193,"s":1.3e-14},{"m":193,"s":7.9e-15},{"m":193,"s":4e-15},{"m":193,"s":2.5e-15},{"m":193,"s":1.6e-15},
{"m":201,"s":3.2e-14},{"m":201,"s":2e-14},{"m":201,"s":5e-15},{"m":201,"s":4e-15},{"m":201,"s":1.3e-15},
{"m":210,"s":3.2e-14},{"m":210,"s":1.3e-14},{"m":210,"s":7.9e-15},{"m":210,"s":4e-15},
{"m":219,"s":3.2e-14},{"m":219,"s":2e-14},{"m":219,"s":1.3e-14},{"m":219,"s":5e-15},{"m":219,"s":3.2e-15},{"m":219,"s":1e-15},
{"m":228,"s":2e-14},{"m":228,"s":7.9e-15},{"m":228,"s":2.5e-15},{"m":228,"s":1.3e-15},
{"m":238,"s":3.2e-14},{"m":238,"s":1.3e-14},{"m":238,"s":5e-15},
{"m":248,"s":3.2e-14},{"m":248,"s":2e-14},{"m":248,"s":7.9e-15},{"m":248,"s":5e-15},{"m":248,"s":4e-15},{"m":248,"s":2.5e-15},{"m":248,"s":1.6e-15},
{"m":259,"s":3.2e-14},{"m":259,"s":1.3e-14},{"m":259,"s":4e-15},{"m":259,"s":1e-15},{"m":259,"s":6.3e-16},
{"m":270,"s":2e-14},{"m":270,"s":7.9e-15},{"m":270,"s":5e-15},{"m":270,"s":2.5e-15},
{"m":282,"s":3.2e-14},{"m":282,"s":3.2e-15},
{"m":294,"s":3.2e-14},{"m":294,"s":1.3e-14},{"m":294,"s":7.9e-15},{"m":294,"s":2.5e-15},
{"m":306,"s":2e-14},{"m":306,"s":5e-15},{"m":306,"s":3.2e-15},{"m":306,"s":5e-16},
{"m":319,"s":3.2e-14},{"m":319,"s":1.3e-14},{"m":319,"s":4e-15},{"m":319,"s":1.6e-15},
{"m":333,"s":2e-14},{"m":333,"s":7.9e-15},{"m":333,"s":5e-15},{"m":333,"s":4e-15},{"m":333,"s":1.6e-15},
{"m":348,"s":3.2e-14},{"m":348,"s":1.3e-14},{"m":348,"s":2.5e-15},{"m":348,"s":1e-15},{"m":348,"s":4e-16},
{"m":362,"s":2e-14},{"m":362,"s":7.9e-15},{"m":362,"s":5e-15},{"m":362,"s":4e-15},{"m":362,"s":1e-15},
{"m":378,"s":3.2e-14},{"m":378,"s":7.9e-15},{"m":378,"s":1.6e-15},
{"m":394,"s":2e-14},{"m":394,"s":1.3e-14},{"m":394,"s":4e-15},{"m":394,"s":2.5e-15},
{"m":411,"s":3.2e-14},{"m":411,"s":7.9e-15},{"m":411,"s":5e-15},{"m":411,"s":7.9e-16},
{"m":429,"s":2e-14},{"m":429,"s":4e-15},{"m":429,"s":2.5e-15},{"m":429,"s":1.3e-15},
{"m":447,"s":3.2e-14},{"m":447,"s":1.3e-14},{"m":447,"s":5e-15},{"m":447,"s":2.5e-15},{"m":447,"s":1.6e-15},
{"m":467,"s":2e-14},{"m":467,"s":7.9e-15},{"m":467,"s":4e-15},{"m":467,"s":6.3e-16},
{"m":487,"s":3.2e-14},{"m":487,"s":1.3e-14},{"m":487,"s":3.2e-15},
{"m":508,"s":2e-14},{"m":508,"s":5e-15},{"m":508,"s":2e-15},
{"m":529,"s":7.9e-14},{"m":529,"s":3.2e-14},{"m":529,"s":7.9e-15},
{"m":552,"s":7.9e-14},{"m":552,"s":5e-14},{"m":552,"s":1.3e-14},{"m":552,"s":4e-15},
{"m":576,"s":5e-14},{"m":576,"s":2e-14},{"m":576,"s":5e-15},
{"m":601,"s":7.9e-14},{"m":601,"s":3.2e-14},{"m":601,"s":1.3e-14},{"m":601,"s":2e-15},
{"m":627,"s":5e-14},{"m":627,"s":2e-14},{"m":627,"s":1.6e-15},{"m":627,"s":1e-15},
{"m":654,"s":7.9e-14},{"m":654,"s":3.2e-14},{"m":654,"s":7.9e-15},{"m":654,"s":2.5e-15},{"m":654,"s":1e-15},
{"m":682,"s":5e-14},{"m":682,"s":2.5e-14},{"m":682,"s":5e-15},
{"m":711,"s":7.9e-14},{"m":711,"s":1.3e-14},{"m":711,"s":3.2e-15},
{"m":741,"s":1e-13},{"m":741,"s":3.2e-14},
{"m":773,"s":5e-14},{"m":773,"s":1.3e-14},
{"m":807,"s":7.9e-14},{"m":807,"s":2.5e-14},
{"m":841,"s":7.9e-12},{"m":841,"s":3.2e-12},{"m":841,"s":1.3e-12},{"m":841,"s":5e-13},{"m":841,"s":2e-13},
{"m":877,"s":5e-12},{"m":877,"s":2.5e-12},{"m":877,"s":7.9e-13},{"m":877,"s":4e-13},
{"m":915,"s":7.9e-12},{"m":915,"s":1.3e-12},{"m":915,"s":3.2e-13},
{"m":955,"s":7.9e-12},{"m":955,"s":1.3e-12},
{"m":996,"s":3.2e-12},{"m":996,"s":1.6e-13},{"m":996,"s":1e-13},
{"m":1038,"s":6.3e-12},{"m":1038,"s":4e-12},{"m":1038,"s":7.9e-13},
{"m":1083,"s":1.6e-12},{"m":1130,"s":2.5e-13},
{"m":1229,"s":6.3e-12},{"m":1229,"s":1e-12},{"m":1229,"s":7.9e-14},
{"m":1337,"s":4e-13}
],
"lux": [{"m":80,"s":7.5e-10},{"m":1205,"s":1e-8}],
"xe": [{"m":80,"s":1.96e-11},{"m":106,"s":2.1e-11},{"m":218,"s":3.95e-11},{"m":480,"s":8.55e-11},{"m":1490,"s":2.64e-10}],
"lz": [{"m":80,"s":3.05e-12},{"m":218,"s":6.45e-12},{"m":480,"s":1.55e-11},{"m":1490,"s":4.16e-11}],
"cy": [{"m":80,"s":1.68e-13},{"m":218,"s":4.71e-13},{"m":512,"s":1.16e-12},{"m":1490,"s":2.99e-12}],
"tlux": [{"m":91.7,"s":1.39e-9,"t":"LUX"}],
"txe": [{"m":1274,"s":4.36e-10,"t":"Xenon1T"}],
"tlz": [{"m":1365,"s":6.78e-11,"t":"LZ"}]
},
"layer": [
{"data": {"name": "b"}, "mark": {"type": "point", "filled": false, "size": 11, "strokeWidth": 1, "opacity": 1},
 "encoding": {
  "x": {"field": "m", "type": "quantitative", "scale": {"type": "log", "domain": [80, 1490], "nice": false},
        "axis": {"orient": "bottom", "values": [100, 1000], "format": "d", "tickSize": -8, "labelFontSize": 15, "labelPadding": 4, "labelFlush": false, "domainColor": "#222", "title": "Dark Matter Mass [GeV]", "titleFontSize": 20, "titlePadding": 4}},
  "y": {"field": "s", "type": "quantitative", "scale": {"type": "log", "domain": [8.3e-17, 1e-8], "nice": false},
        "axis": {"orient": "left", "values": [1e-8, 1e-10, 1e-12, 1e-14, 1e-16], "tickSize": -7, "labelFontSize": 19, "labelPadding": 3, "labelFlush": false, "domainColor": "#222",
                 "labelExpr": "'10' + (datum.value > 5e-9 ? '⁻⁸' : datum.value > 5e-11 ? '⁻¹⁰' : datum.value > 5e-13 ? '⁻¹²' : datum.value > 5e-15 ? '⁻¹⁴' : '⁻¹⁶')",
                 "title": "Spin-independent cross section [pb]", "titleFontSize": 15, "titlePadding": 2}},
  "color": {"datum": "λ₃ = 3", "type": "nominal", "scale": {"domain": ["λ₃ = 3", "λ₃ = 1", "λ₃ = 0.1"], "range": ["#3a3af0", "#f01818", "#ffa020"]},
            "legend": {"orient": "none", "legendX": 328, "legendY": 199, "title": null, "padding": 5, "strokeColor": "#444", "fillColor": "white", "labelFont": "Liberation Serif", "labelFontSize": 22, "labelColor": "black", "symbolSize": 16, "symbolStrokeWidth": 1.2, "rowPadding": 2, "labelOffset": 4, "symbolOffset": 3}},
  "shape": {"datum": "λ₃ = 3", "type": "nominal", "scale": {"domain": ["λ₃ = 3", "λ₃ = 1", "λ₃ = 0.1"], "range": ["square", "M-1,-1L1,1M-1,1L1,-1", "circle"]},
            "legend": {"orient": "none", "legendX": 328, "legendY": 199, "title": null, "padding": 5, "strokeColor": "#444", "fillColor": "white", "labelFont": "Liberation Serif", "labelFontSize": 22, "labelColor": "black", "symbolSize": 16, "symbolStrokeWidth": 1.2, "rowPadding": 2, "labelOffset": 4, "symbolOffset": 3}}
 }},
{"data": {"name": "r"}, "mark": {"type": "point", "filled": false, "size": 12, "strokeWidth": 1.4, "opacity": 1},
 "encoding": {
  "x": {"field": "m", "type": "quantitative", "axis": {"orient": "bottom", "values": [90, 200, 300, 400, 500, 600, 700, 800, 900], "tickSize": -4, "labels": false, "domain": false, "title": null}},
  "y": {"field": "s", "type": "quantitative", "axis": {"orient": "right", "values": [1e-8, 1e-10, 1e-12, 1e-14, 1e-16], "tickSize": -7, "labels": false, "domainColor": "#999", "title": null}},
  "color": {"datum": "λ₃ = 1", "type": "nominal"},
  "shape": {"datum": "λ₃ = 1", "type": "nominal"}
 }},
{"data": {"name": "o"}, "mark": {"type": "point", "filled": false, "size": 13, "strokeWidth": 1.2, "opacity": 1},
 "encoding": {
  "x": {"field": "m", "type": "quantitative", "axis": {"orient": "top", "values": [100, 1000], "tickSize": -8, "labels": false, "domainColor": "#999", "title": null}},
  "y": {"field": "s", "type": "quantitative", "axis": null},
  "color": {"datum": "λ₃ = 0.1", "type": "nominal"},
  "shape": {"datum": "λ₃ = 0.1", "type": "nominal"}
 }},
{"data": {"name": "cy"}, "mark": {"type": "line", "color": "#12e0ee", "strokeWidth": 3, "clip": true},
 "encoding": {
  "x": {"field": "m", "type": "quantitative", "axis": {"orient": "top", "values": [90, 200, 300, 400, 500, 600, 700, 800, 900], "tickSize": -4, "labels": false, "domain": false, "title": null}},
  "y": {"field": "s", "type": "quantitative", "axis": null}
 }},
{"data": {"name": "lz"}, "mark": {"type": "line", "color": "#ff1010", "strokeWidth": 2, "strokeDash": [9, 5], "clip": true},
 "encoding": {"x": {"field": "m", "type": "quantitative", "axis": null}, "y": {"field": "s", "type": "quantitative", "axis": null}}},
{"data": {"name": "xe"}, "mark": {"type": "line", "color": "#ffa500", "strokeWidth": 2, "strokeDash": [11, 4, 2, 4], "clip": true},
 "encoding": {"x": {"field": "m", "type": "quantitative", "axis": null}, "y": {"field": "s", "type": "quantitative", "axis": null}}},
{"data": {"name": "lux"}, "mark": {"type": "line", "color": "#118811", "strokeWidth": 1.6, "clip": true},
 "encoding": {"x": {"field": "m", "type": "quantitative", "axis": null}, "y": {"field": "s", "type": "quantitative", "axis": null}}},
{"data": {"name": "tlux"}, "mark": {"type": "text", "font": "Liberation Serif", "fontSize": 11, "color": "#118811", "align": "center", "baseline": "middle"},
 "encoding": {"x": {"field": "m", "type": "quantitative", "axis": null}, "y": {"field": "s", "type": "quantitative", "axis": null}, "text": {"field": "t"}}},
{"data": {"name": "txe"}, "mark": {"type": "text", "font": "Liberation Serif", "fontSize": 11, "color": "#ffa500", "align": "center", "baseline": "middle"},
 "encoding": {"x": {"field": "m", "type": "quantitative", "axis": null}, "y": {"field": "s", "type": "quantitative", "axis": null}, "text": {"field": "t"}}},
{"data": {"name": "tlz"}, "mark": {"type": "text", "font": "Liberation Serif", "fontSize": 12, "color": "#ff1010", "align": "center", "baseline": "middle"},
 "encoding": {"x": {"field": "m", "type": "quantitative", "axis": null}, "y": {"field": "s", "type": "quantitative", "axis": null}, "text": {"field": "t"}}}
],
"resolve": {"axis": {"x": "independent", "y": "independent"}}
}
